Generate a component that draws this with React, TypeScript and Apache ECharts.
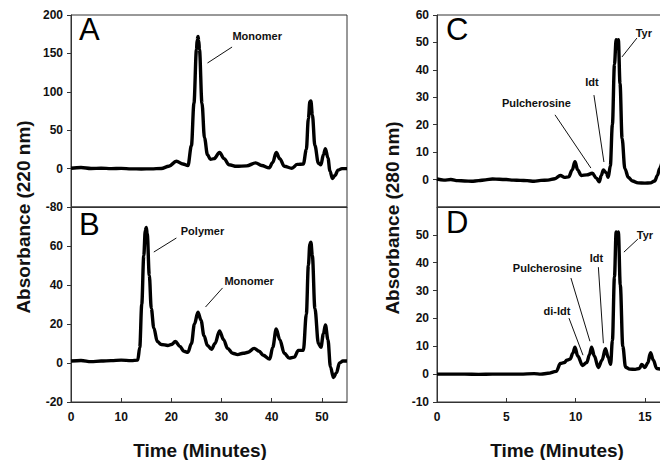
import React, { useEffect, useRef } from "react";
import * as echarts from "echarts";

// ---------- Data ----------
// Panel A: absorbance at 220 nm vs time (min)
const timeA = [0, 2, 4, 6, 8, 10, 12, 14, 16, 18, 19.5, 21, 22.3, 23.3, 24, 24.5, 25.0, 25.15, 25.3, 25.45, 25.6, 26.1, 26.6, 27.2, 27.8, 28.5, 29.6, 30.5, 31.5, 33, 35, 36.8, 38, 39.5, 40.2, 40.9, 41.6, 42.5, 44, 45.1, 46.3, 46.9, 47.3, 47.6, 47.8, 48.1, 48.6, 49.3, 49.8, 50.3, 50.7, 51.2, 51.6, 52.1, 52.6, 53.2, 54, 55];
const absA = [0.5, 1.5, 0.2, 0.5, 0, 0.3, -0.3, -0.5, -0.3, 0.2, 3, 9.5, 6, 4, 30, 85, 155, 168, 172, 167, 155, 85, 40, 18, 12, 13, 21, 13, 5, 3, 3.5, 7.5, 4, 1, 8, 21, 13, 3, 0.5, 5.5, 6, 25, 65, 87, 88, 70, 30, 7, 5, 18, 26, 14, -3, -13, -9, -2, 0, 0];

// Panel B
const timeB = [0, 2, 4, 6, 8, 10, 12, 13.3, 13.7, 14.1, 14.5, 14.8, 15.0, 15.2, 15.6, 16.0, 16.5, 17.2, 18, 19.3, 20, 20.8, 21.7, 22.5, 23.3, 24.0, 24.6, 25.3, 25.9, 26.5, 27.2, 28.0, 28.7, 29.6, 30.4, 31.2, 32.2, 33.2, 34.3, 35.3, 36.5, 37.5, 38.3, 39.6, 40.2, 40.9, 41.6, 42.5, 43.5, 44.5, 45.3, 46.3, 46.9, 47.3, 47.6, 47.8, 48.1, 48.6, 49.3, 49.8, 50.3, 50.7, 51.2, 51.7, 52.3, 52.9, 53.5, 54.2, 55];
const absB = [1, 1.3, 0.7, 1, 1.2, 1.5, 1.2, 1.5, 8, 30, 55, 68, 69.5, 66, 45, 28, 18, 11, 9.5, 9, 9.5, 11, 8.5, 6, 5.5, 10, 20, 26, 22, 14, 9, 7, 10, 16.5, 12, 7.5, 5, 4.3, 5, 5.5, 7.5, 6, 4, 2, 8, 17.5, 12, 5, 2.5, 3, 6.5, 6.5, 25, 50, 61, 62, 55, 28, 10, 8, 15, 19.5, 12, -2, -7.5, -5, 0, 1, 1];

// Panel C: absorbance at 280 nm
const timeC = [0, 0.5, 1, 1.5, 2, 2.5, 3, 3.5, 4, 4.5, 5, 5.5, 6, 6.5, 7, 7.5, 8, 8.5, 8.9, 9.2, 9.5, 9.75, 9.95, 10.15, 10.4, 10.8, 11.2, 11.5, 11.7, 11.85, 12.0, 12.2, 12.35, 12.5, 12.65, 12.8, 12.92, 13.0, 13.08, 13.2, 13.35, 13.55, 13.8, 14.1, 14.5, 15, 15.4, 15.7, 15.9, 16.05, 16.3];
const absC = [0.2, -0.2, 0, -0.4, -0.5, -0.6, -0.4, -0.1, 0.2, 0.1, 0, -0.2, -0.3, -0.4, -0.6, -0.3, -0.2, 0.3, 1.5, 0.8, 1, 3.5, 6.5, 3.5, 1.5, 1.7, 2.3, 0.5, -0.8, 1.5, 3.5, 2.5, 0.8, 5, 20, 42, 51, 49, 51, 35, 15, 4, 0.8, -0.5, -1.2, -1.3, -1.2, -0.5, 1.5, 4, 8];

// Panel D
const timeD = [0, 1, 2, 3, 4, 5, 6, 7, 7.5, 8, 8.6, 8.9, 9.2, 9.35, 9.6, 9.8, 9.95, 10.15, 10.5, 10.8, 11.0, 11.15, 11.35, 11.63, 11.9, 12.15, 12.35, 12.52, 12.65, 12.8, 12.92, 13.0, 13.08, 13.22, 13.4, 13.6, 13.9, 14.3, 14.6, 14.76, 15.0, 15.2, 15.4, 15.6, 15.85, 16.3];
const absD = [0, 0, 0, -0.1, 0, 0, 0, 0.2, 0, 0.3, 1, 3.8, 4.2, 5, 5.4, 7.5, 9.7, 6.5, 3.1, 4.2, 7, 9.7, 6.5, 2.4, 5, 9.1, 6, 3.5, 12, 35, 51, 48, 51, 32, 10, 2.5, 1.8, 1.7, 2, 3.5, 2.4, 4, 7.7, 5, 2, 1.5];

// Annotations (data coordinates): label, label position, leader line start/end
const annotationsA = [
  { label: "Monomer", at: [37.1, 172.7], from: [27.2, 137.5], to: [32.1, 158.3] },
];
const annotationsB = [
  { label: "Polymer", at: [26.2, 67.7], from: [16.5, 56.9], to: [21.0, 64.1] },
  { label: "Monomer", at: [35.5, 42], from: [26.8, 28.7], to: [30.2, 38.5] },
];
const annotationsC = [
  { label: "Tyr", at: [14.92, 53.4], from: [13.34, 44.7], to: [14.42, 51.6] },
  { label: "Idt", at: [11.18, 35.6], from: [11.32, 30.8], to: [12.04, 6.4] },
  { label: "Pulcherosine", at: [7.17, 27.9], from: [8.51, 23.6], to: [11.1, 4.2] },
];
const annotationsD = [
  { label: "Tyr", at: [15.0, 49.9], from: [13.48, 43.8], to: [14.49, 48.5] },
  { label: "Idt", at: [11.5, 41.6], from: [11.64, 38.4], to: [12.0, 11.1] },
  { label: "Pulcherosine", at: [7.96, 38.0], from: [9.66, 34.5], to: [11.03, 11.8] },
  { label: "di-Idt", at: [8.65, 22.6], from: [9.52, 20.1], to: [10.53, 6.8] },
];

const panelLetters = ["A", "B", "C", "D"];
const xTitle = "Time (Minutes)";
const yTitleLeft = "Absorbance (220 nm)";
const yTitleRight = "Absorbance (280 nm)";

const FONT = '"Liberation Sans", Arial, Helvetica, sans-serif';
const AXIS_COLOR = "#333";

function zip(xs: number[], ys: number[]) {
  return xs.map((x, i) => [x, ys[i]]);
}

function makeSeries(idx: number, xs: number[], ys: number[], ann: any[]) {
  return {
    type: "line",
    xAxisIndex: idx,
    yAxisIndex: idx,
    data: zip(xs, ys),
    showSymbol: false,
    symbol: "none",
    smooth: 0.35,
    smoothMonotone: "x",
    lineStyle: { color: "#000", width: 3.4 },
    silent: true,
    z: 3,
    markLine: {
      silent: true,
      symbol: ["none", "none"],
      animation: false,
      label: { show: false },
      lineStyle: { color: "#111", width: 1, type: "solid" },
      emphasis: { disabled: true },
      data: ann.map((a) => [{ coord: a.from }, { coord: a.to }]),
    },
    markPoint: {
      silent: true,
      animation: false,
      symbol: "rect",
      symbolSize: 1,
      itemStyle: { color: "rgba(0,0,0,0)" },
      label: {
        show: true,
        position: "inside",
        formatter: "{b}",
        color: "#111",
        fontFamily: FONT,
        fontWeight: "bold",
        fontSize: 11,
      },
      data: ann.map((a) => ({ name: a.label, coord: a.at })),
    },
  };
}

export default function App() {
  const ref = useRef<HTMLDivElement>(null);

  useEffect(() => {
    if (!ref.current) return;
    const chart = echarts.init(ref.current, undefined, { renderer: "svg" });

    const tickLabel = {
      color: "#111",
      fontFamily: FONT,
      fontWeight: "bold",
      fontSize: 12,
    };

    const baseX = (extra: any) => ({
      type: "value",
      splitLine: { show: false },
      axisLine: { show: true, onZero: false, lineStyle: { color: AXIS_COLOR, width: 1 } },
      ...extra,
    });
    const baseY = (extra: any) => ({
      type: "value",
      splitLine: { show: false },
      axisLine: { show: true, onZero: false, lineStyle: { color: AXIS_COLOR, width: 1 } },
      axisTick: { show: true, inside: false, length: 4, lineStyle: { color: AXIS_COLOR } },
      ...extra,
    });

    const grids = [
      { left: 71, right: 333, top: 15, height: 192 },
      { left: 71, right: 333, top: 207, height: 195 },
      { left: 437, right: 17, top: 15, height: 192 },
      { left: 437, right: 17, top: 207, height: 195 },
    ].map((g) => ({
      ...g,
      show: true,
      borderColor: AXIS_COLOR,
      borderWidth: 1,
      backgroundColor: "transparent",
      containLabel: false,
    }));

    const option: any = {
      animation: false,
      grid: grids,
      xAxis: [
        baseX({ gridIndex: 0, min: 0, max: 55, axisTick: { show: false }, axisLabel: { show: false } }),
        baseX({
          gridIndex: 1, min: 0, max: 55, interval: 10,
          axisTick: { show: true, inside: true, length: 4, lineStyle: { color: AXIS_COLOR } },
          axisLabel: { ...tickLabel, margin: 9, showMaxLabel: false },
        }),
        baseX({ gridIndex: 2, min: 0, max: 16.3, axisTick: { show: false }, axisLabel: { show: false } }),
        baseX({
          gridIndex: 3, min: 0, max: 16.3, interval: 5,
          axisTick: { show: true, inside: true, length: 4, lineStyle: { color: AXIS_COLOR } },
          axisLabel: { ...tickLabel, margin: 9, showMaxLabel: false },
        }),
      ],
      yAxis: [
        baseY({
          gridIndex: 0, min: -50, max: 200, interval: 50,
          axisLabel: { ...tickLabel, margin: 8, formatter: (v: number) => (v === -50 ? "-80" : String(v)) },
        }),
        baseY({
          gridIndex: 1, min: -20, max: 80, interval: 20,
          axisLabel: { ...tickLabel, margin: 8, showMaxLabel: false },
        }),
        baseY({
          gridIndex: 2, min: -10, max: 60, interval: 10,
          axisLabel: { ...tickLabel, margin: 8, showMinLabel: false },
        }),
        baseY({
          gridIndex: 3, min: -10, max: 60, interval: 10,
          axisLabel: { ...tickLabel, margin: 8, showMaxLabel: false },
        }),
      ],
      series: [
        makeSeries(0, timeA, absA, annotationsA),
        makeSeries(1, timeB, absB, annotationsB),
        makeSeries(2, timeC, absC, annotationsC),
        makeSeries(3, timeD, absD, annotationsD),
      ],
      graphic: [
        ...[
          [79, 45],
          [79, 240],
          [446, 45],
          [446, 238],
        ].map(([x, y], i) => ({
          type: "text",
          x,
          y,
          silent: true,
          style: {
            text: panelLetters[i],
            fill: "#000",
            font: `normal 31px ${FONT}`,
            textAlign: "left",
            textVerticalAlign: "bottom",
          },
        })),
        {
          type: "text",
          x: 200,
          y: 450,
          silent: true,
          style: { text: xTitle, fill: "#111", font: `bold 19px ${FONT}`, textAlign: "center", textVerticalAlign: "middle" },
        },
        {
          type: "text",
          x: 557,
          y: 450,
          silent: true,
          style: { text: xTitle, fill: "#111", font: `bold 19px ${FONT}`, textAlign: "center", textVerticalAlign: "middle" },
        },
        {
          type: "text",
          x: 23,
          y: 217,
          rotation: Math.PI / 2,
          silent: true,
          style: { text: yTitleLeft, fill: "#111", font: `bold 19px ${FONT}`, textAlign: "center", textVerticalAlign: "middle" },
        },
        {
          type: "text",
          x: 392,
          y: 218,
          rotation: Math.PI / 2,
          silent: true,
          style: { text: yTitleRight, fill: "#111", font: `bold 19px ${FONT}`, textAlign: "center", textVerticalAlign: "middle" },
        },
      ],
    };

    chart.setOption(option);
    return () => chart.dispose();
  }, []);

  return (
    <div style={{ position: "absolute", left: 0, top: 0, width: 660, height: 460, overflow: "hidden", background: "#fff" }}>
      <div ref={ref} style={{ width: 680, height: 460 }} />
    </div>
  );
}
